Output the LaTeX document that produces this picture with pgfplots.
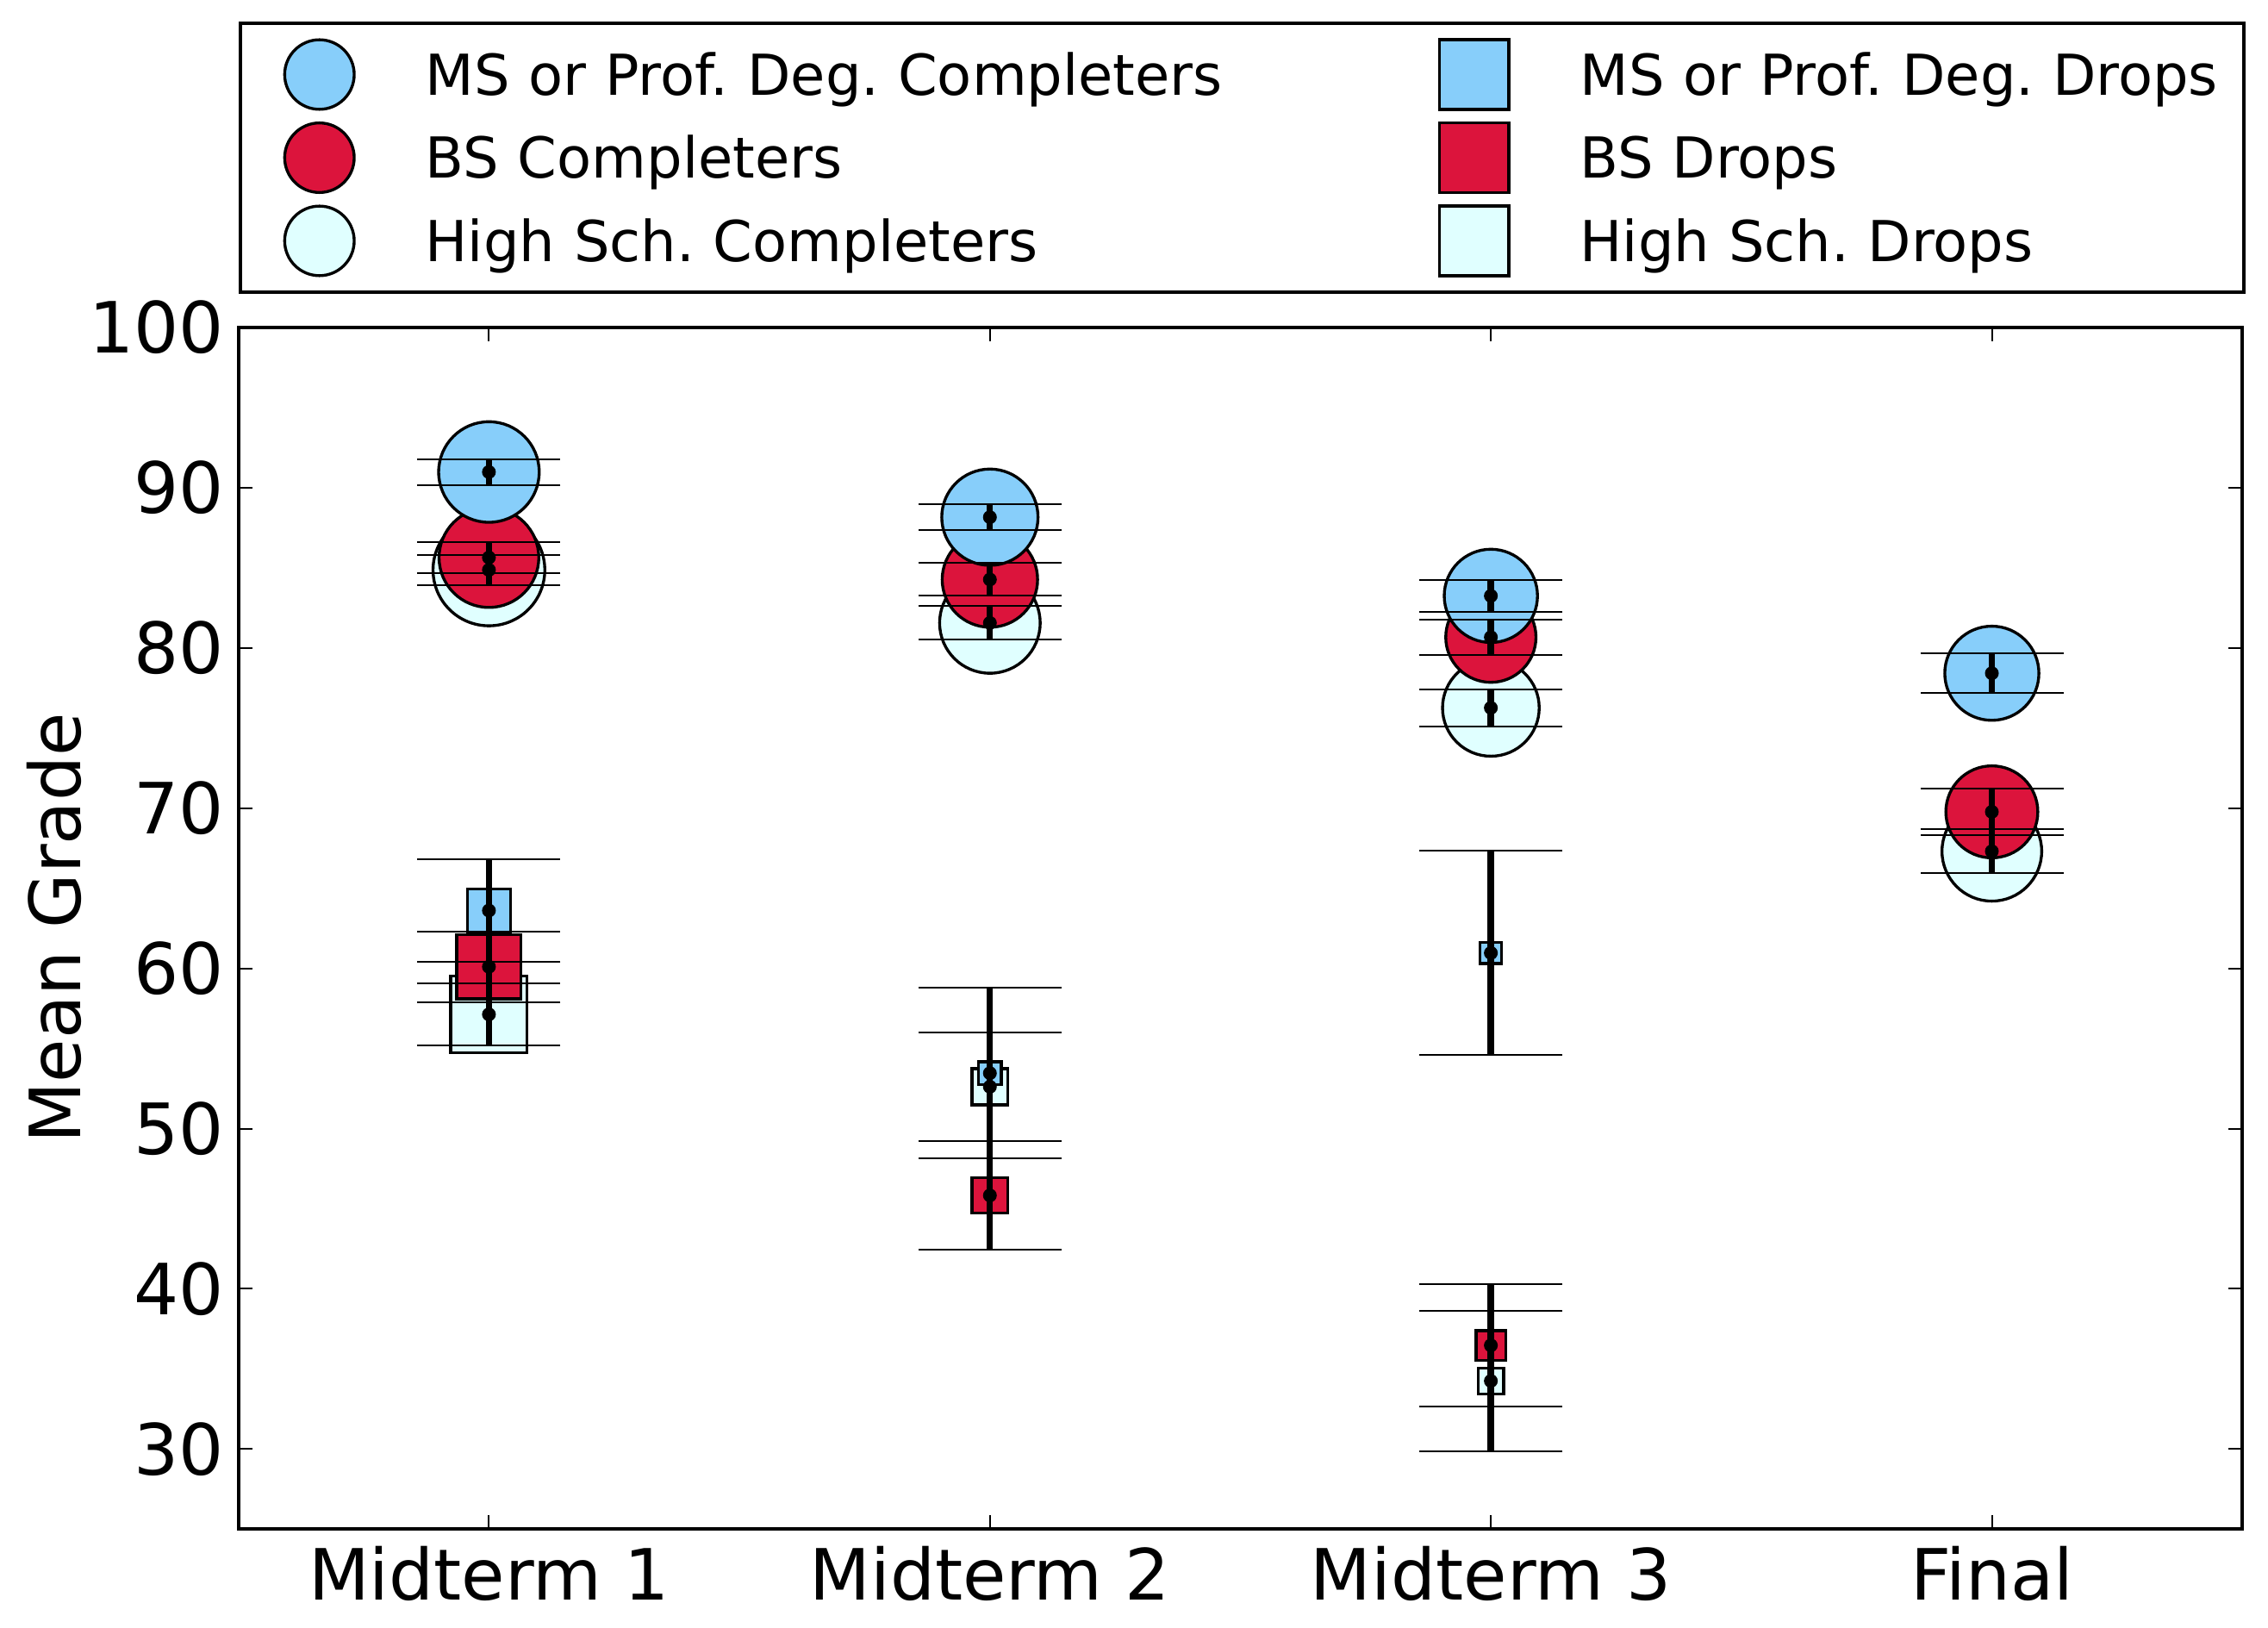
\documentclass[border=0pt]{standalone}
\usepackage{fontspec}
\setmainfont{DejaVu Sans}
\usepackage{pgfplots}
\usepackage{pgfplotstable}
\pgfplotsset{compat=1.18}
\frenchspacing
\definecolor{mscol}{RGB}{135,206,250}
\definecolor{bscol}{RGB}{220,20,60}
\definecolor{hscol}{RGB}{224,255,255}

% completers: x mean err markersize(pt radius)
\pgfplotstableread{
x y e s
0 90.98 0.81 11.67
1 88.16 0.82 11.17
2 83.25 1.00 10.82
3 78.42 1.24 10.92
}\msc
\pgfplotstableread{
x y e s
0 85.64 0.96 11.57
1 84.27 1.02 11.07
2 80.67 1.11 10.47
3 69.77 1.45 10.67
}\bsc
\pgfplotstableread{
x y e s
0 84.87 0.95 12.97
1 81.56 1.04 11.67
2 76.26 1.14 11.22
3 67.31 1.37 11.57
}\hsc
% drops: x mean err half-side(pt)
\pgfplotstableread{
x y e s
0 63.61 3.21 5.02
1 53.46 5.34 2.67
2 60.96 6.37 2.47
}\msd
\pgfplotstableread{
x y e s
0 60.10 2.20 7.47
1 45.83 3.41 4.12
2 36.47 3.82 3.42
}\bsd
\pgfplotstableread{
x y e s
0 57.13 1.95 8.87
1 52.61 3.39 4.17
2 34.25 4.37 2.97
}\hsd

\pgfplotsset{
  sizedmarks/.style 2 args={scatter, only marks, forget plot, mark=#1,
    scatter/use mapped color={draw=black, fill=#2},
    mark options={line width=0.67pt},
    visualization depends on={\thisrow{s} \as \msize},
    scatter/@pre marker code/.append style={/tikz/mark size=\msize}},
  errs/.style={black, only marks, mark=*, mark size=1.4pt, forget plot,
    on layer=axis foreground,
    error bars/.cd, y dir=both, y explicit,
    error mark=|,
    error bar style={line width=1.47pt},
    error mark options={line width=0.4pt, mark size=16.6pt}}
}

\begin{document}
\begin{tikzpicture}
\begin{axis}[
  set layers,
  at={(0pt,0pt)}, anchor=south west,
  scale only axis, width=465.1pt, height=278.86pt,
  xmin=-0.5, xmax=3.5, ymin=25, ymax=100,
  xtick={0,1,2,3}, xticklabels={Midterm 1,Midterm 2,Midterm 3,Final},
  ytick={30,40,50,60,70,80,90,100},
  /pgf/number format/assume math mode=true,
  ticklabel style={font=\fontsize{16.4}{19.7}\selectfont, inner sep=0pt},
  xticklabel style={yshift=-3.8pt},
  yticklabel style={xshift=-3.2pt},
  axis line style={line width=0.8pt},
  tick style={line width=0.4pt, black},
  major tick length=3.2pt,
  tick align=inside,
  ylabel={Mean Grade},
  ylabel style={font=\fontsize{16.4}{19.7}\selectfont, at={(axis description cs:-0.092,0.5)}, anchor=center, inner sep=0pt},
  legend image code/.code={\path[draw=none,fill=none] (-18.4pt,-9.65pt) rectangle (24.6pt,9.65pt); \draw[#1] plot coordinates {(0pt,0pt)};},
  legend columns=2, legend cell align=left,
  legend style={
    at={(0,1)}, anchor=south west, yshift=7.8pt,
    draw=black, line width=0.8pt,
    inner xsep=0pt, inner ysep=2.25pt,
    column sep=0pt, row sep=0pt,
    font=\fontsize{13.1}{15.7}\selectfont,
    nodes={inner sep=0pt, text height=14.43pt, text depth=4.87pt},
    /tikz/column 2/.style={nodes={text width=225pt}},
    /tikz/column 4/.style={nodes={text width=154.1pt}},
  },
]
\addlegendimage{mark=*, draw=black, fill=mscol, line width=0.67pt, mark size=8.07pt}
\addlegendentry{MS or Prof. Deg. Completers}
\addlegendimage{mark=square*, draw=black, fill=mscol, line width=0.67pt, mark size=8.07pt}
\addlegendentry{MS or Prof. Deg. Drops}
\addlegendimage{mark=*, draw=black, fill=bscol, line width=0.67pt, mark size=8.07pt}
\addlegendentry{BS Completers}
\addlegendimage{mark=square*, draw=black, fill=bscol, line width=0.67pt, mark size=8.07pt}
\addlegendentry{BS Drops}
\addlegendimage{mark=*, draw=black, fill=hscol, line width=0.67pt, mark size=8.07pt}
\addlegendentry{High Sch. Completers}
\addlegendimage{mark=square*, draw=black, fill=hscol, line width=0.67pt, mark size=8.07pt}
\addlegendentry{High Sch. Drops}

\addplot[sizedmarks={*}{hscol}] table[x=x,y=y] {\hsc};
\addplot[sizedmarks={*}{bscol}] table[x=x,y=y] {\bsc};
\addplot[sizedmarks={*}{mscol}] table[x=x,y=y] {\msc};
\addplot[sizedmarks={square*}{hscol}] table[x=x,y=y] {\hsd};
\addplot[sizedmarks={square*}{bscol}] table[x=x,y=y] {\bsd};
\addplot[sizedmarks={square*}{mscol}] table[x=x,y=y] {\msd};

\addplot[errs] table[x=x,y=y,y error=e] {\hsc};
\addplot[errs] table[x=x,y=y,y error=e] {\bsc};
\addplot[errs] table[x=x,y=y,y error=e] {\msc};
\addplot[errs] table[x=x,y=y,y error=e] {\hsd};
\addplot[errs] table[x=x,y=y,y error=e] {\bsd};
\addplot[errs] table[x=x,y=y,y error=e] {\msd};
\end{axis}
\pgfresetboundingbox
\path[use as bounding box] (-55.34pt,-22.74pt) rectangle (471.06pt,354.86pt);
\end{tikzpicture}
\end{document}
